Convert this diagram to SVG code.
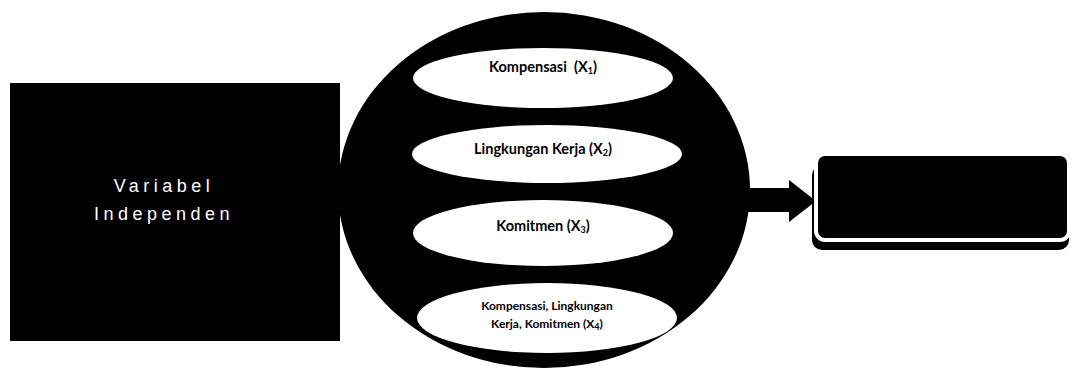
<svg xmlns="http://www.w3.org/2000/svg" width="1071" height="368" viewBox="0 0 1071 368">
<style>
.blk{fill:#000}
.inner{fill:#fff}
.lbl{font-family:Lato,"Liberation Sans",sans-serif;font-weight:bold;fill:#000;text-anchor:middle;white-space:pre}
.big{font-size:14.5px}
.sm{font-size:12px}
.sub{font-size:9px}
.wt{font-family:"Liberation Sans",Arial,sans-serif;font-size:18px;fill:#fff;text-anchor:middle;letter-spacing:4.5px}
</style>
<rect width="1071" height="368" fill="#fff"/>
<g id="independen">
<rect class="blk" x="10" y="83" width="330" height="258"/>
<text class="wt" x="164" y="192">Variabel</text>
<text class="wt" x="164" y="220">Independen</text>
</g>
<g id="group-circle">
<ellipse class="blk" cx="544" cy="190" rx="206" ry="178"/>
</g>
<g id="kompensasi">
<ellipse class="inner" cx="543" cy="78" rx="130" ry="30"/>
<text class="lbl big" x="543" y="72" xml:space="preserve">Kompensasi  (X<tspan class="sub" dy="2">1</tspan><tspan dy="-2">)</tspan></text>
</g>
<g id="lingkungan">
<ellipse class="inner" cx="547" cy="154" rx="135" ry="29"/>
<text class="lbl big" x="543" y="154">Lingkungan Kerja (X<tspan class="sub" dy="2">2</tspan><tspan dy="-2">)</tspan></text>
</g>
<g id="komitmen">
<ellipse class="inner" cx="543" cy="233" rx="130" ry="33"/>
<text class="lbl big" x="543" y="231">Komitmen (X<tspan class="sub" dy="2">3</tspan><tspan dy="-2">)</tspan></text>
</g>
<g id="gabungan">
<ellipse class="inner" cx="547" cy="318" rx="130" ry="35"/>
<text class="lbl sm" x="547" y="310">Kompensasi, Lingkungan</text>
<text class="lbl sm" x="547" y="328">Kerja, Komitmen (X<tspan class="sub" dy="2">4</tspan><tspan dy="-2">)</tspan></text>
</g>
<g id="connectors">
<polygon class="blk" points="745,188 789,188 789,180 816,201 789,222 789,212 745,212"/>
</g>
<g id="dependen">
<rect class="blk" x="812" y="165" width="257" height="85" rx="10"/>
<rect class="blk" x="816" y="154" width="253" height="86" rx="9" stroke="#fff" stroke-width="4"/>
</g>
</svg>
